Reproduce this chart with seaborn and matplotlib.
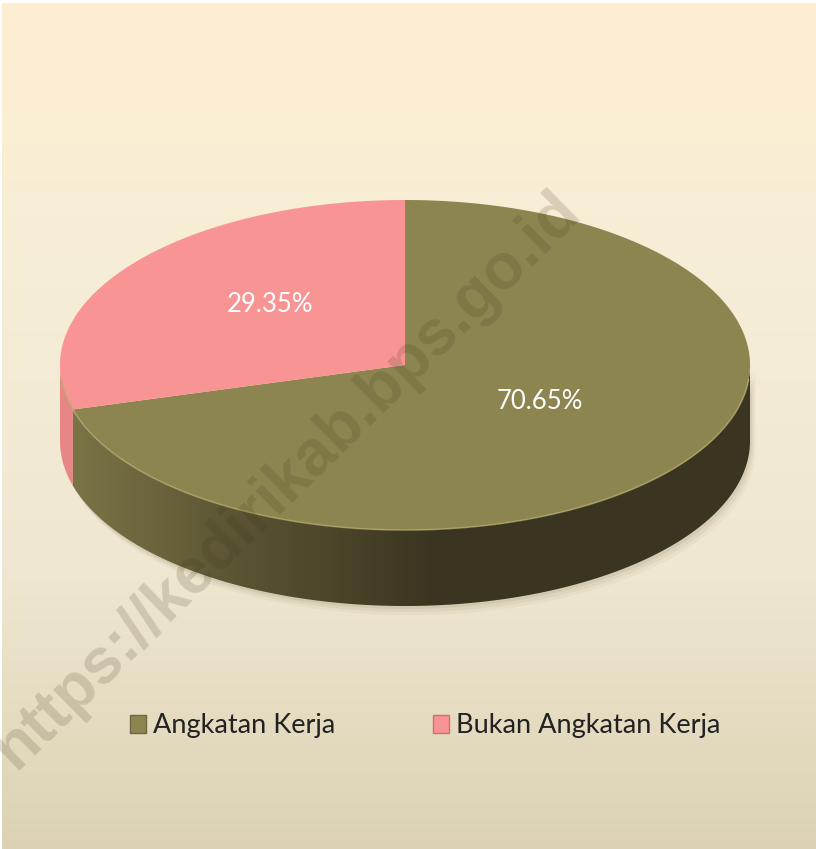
import numpy as np
import matplotlib
matplotlib.use('Agg')
import matplotlib.pyplot as plt
import seaborn as sns
from matplotlib.colors import LinearSegmentedColormap
from matplotlib.patches import Polygon, Patch

categories = ['Angkatan Kerja', 'Bukan Angkatan Kerja']
values = [70.65, 29.35]
top_colors = ['#8C8550', '#F99494']
side_colors = [['#7D7647', '#5A5333', '#3B3620', '#3A3520'], ['#E88686', '#E88686']]
watermark = 'https://kedirikab.bps.go.id'

sns.set_style('white')
plt.rcParams['font.family'] = ['Lato', 'DejaVu Sans']

W, H = 816, 849
fig = plt.figure(figsize=(W / 100, H / 100), dpi=100, facecolor='white')
ax = fig.add_axes([0, 0, 1, 1])
ax.set_xlim(0, W)
ax.set_ylim(H, 0)
ax.axis('off')

# background gradient
bg = LinearSegmentedColormap.from_list('bg', ['#FEEFD1', '#F6EDD7', '#EFE7D1', '#DCD2B3'])
grad = np.linspace(0, 1, 256).reshape(-1, 1)
ax.imshow(grad, cmap=bg, extent=(2, W, H, 3), aspect='auto', zorder=0)

# pie geometry (pixels)
cx, cy, a, b, depth = 405, 365, 345, 165, 76


def ell(theta, dy=0):
    t = np.radians(theta)
    return np.column_stack([cx + a * np.cos(t), cy - b * np.sin(t) + dy])


# slice angles: start at 12 o'clock, clockwise
fracs = np.array(values) / sum(values)
starts, ends = [], []
cur = 90.0
for f in fracs:
    starts.append(cur - 360 * f)
    ends.append(cur)
    cur -= 360 * f

# soft shadow
for k, al in zip([9, 6, 3], [0.05, 0.07, 0.09]):
    th = np.linspace(180, 360, 200)
    pts = np.vstack([ell(th, depth + k) + [k * 0.6, 0], ell(th[::-1], 0) + [k * 0.6, 0]])
    ax.add_patch(Polygon(pts, closed=True, facecolor='#6B6040', alpha=al, edgecolor='none', zorder=1))

# side faces (front half only)
for i in range(len(values)):
    t1 = starts[i] % 360
    t2 = t1 + 360 * fracs[i]
    for lo, hi in [(180, 360), (540, 720)]:
        s, e = max(t1, lo), min(t2, hi)
        if e <= s:
            continue
        th = np.linspace(s, e, 200)
        pts = np.vstack([ell(th), ell(th[::-1], depth)])
        poly = Polygon(pts, closed=True, facecolor='none', edgecolor='none', zorder=2)
        ax.add_patch(poly)
        cmap = LinearSegmentedColormap.from_list('side%d' % i, side_colors[i])
        hg = np.linspace(0, 1, 256).reshape(1, -1)
        im = ax.imshow(hg, cmap=cmap, extent=(cx - a, cx + a * 0.6, cy + b + depth, cy - b),
                       aspect='auto', zorder=2)
        im.set_clip_path(poly)
        ax.imshow(np.zeros((1, 1)), cmap=LinearSegmentedColormap.from_list('dk', [side_colors[i][-1]] * 2),
                  extent=(cx + a * 0.6, cx + a + 2, cy + b + depth, cy - b), aspect='auto',
                  zorder=2).set_clip_path(poly)

# top faces
for i in range(len(values)):
    th = np.linspace(starts[i], ends[i], 300)
    pts = np.vstack([[cx, cy], ell(th)])
    ax.add_patch(Polygon(pts, closed=True, facecolor=top_colors[i], edgecolor='none', zorder=3))

# rim highlight on front edge
th = np.linspace(185, 355, 200)
ax.plot(*ell(th).T, color='#B4AA6E', lw=1.2, alpha=0.7, zorder=4)

# percentage labels
mids = [(s + e) / 2 for s, e in zip(starts, ends)]
for i, m in enumerate(mids):
    t = np.radians(m)
    x = cx + 0.49 * a * np.cos(t)
    y = cy - 0.49 * b * np.sin(t) - 12
    ax.text(x, y, f'{values[i]:.2f}%', color='white', fontsize=18.5,
            ha='center', va='center', zorder=5)

# watermark (cut at the left edge, as in the source)
ax.text(287, 480, watermark, rotation=44.5, fontsize=46, fontweight='bold',
        family=['Liberation Sans', 'DejaVu Sans'], color='#3C3418', alpha=0.17,
        ha='center', va='center', rotation_mode='anchor', zorder=6)

# legend
handles = [Patch(facecolor=c, edgecolor='#6E6842', label=l) for c, l in zip(top_colors, categories)]
handles[1].set_edgecolor('#D07070')
ax.legend(handles=handles, loc='center', bbox_to_anchor=(0.521, 1 - 726 / H), ncol=2,
          frameon=False, fontsize=19.5, handlelength=0.6, handleheight=0.6,
          handletextpad=0.25, columnspacing=3.6, labelcolor='#222222')

fig.savefig('out.png', dpi=100, facecolor='white')
